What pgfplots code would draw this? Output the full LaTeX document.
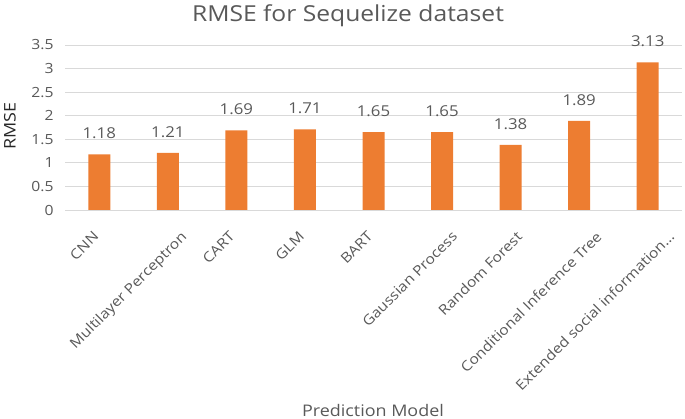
\documentclass[border=0pt]{standalone}
\usepackage{pgfplots}
\pgfplotsset{compat=1.18}
\usepackage{fontspec}
\setmainfont{Open Sans}[FakeStretch=1.12]
\definecolor{barorange}{HTML}{ED7D31}
\definecolor{txtgray}{HTML}{595959}
\definecolor{gridgray}{HTML}{D9D9D9}
\begin{document}
\begin{tikzpicture}
\path[use as bounding box] (0,0) rectangle (685bp,419bp);
\begin{axis}[
  at={(65bp,209bp)}, anchor=south west,
  scale only axis, width=617bp, height=165bp,
  xmin=-0.5, xmax=8.5, ymin=0, ymax=3.5,
  ytick={0,0.5,...,3.5},
  yticklabels={0,0.5,1,1.5,2,2.5,3,3.5},
  xtick=data,
  xticklabels={CNN,Multilayer Perceptron,CART,GLM,BART,Gaussian Process,Random Forest,Conditional Inference Tree,Extended social information…},
  xticklabel style={xshift={{-7,12,-8,-7,-7,9,5,16,20}[\ticknum]}, yshift=-20bp,
    rotate=45, anchor=north east, font=\fontsize{14bp}{17bp}\selectfont, text=txtgray, inner sep=0bp},
  yticklabel style={font=\fontsize{14bp}{17bp}\selectfont, text=txtgray, xshift=-8bp},
  axis line style={draw=none},
  major tick length=0pt,
  ymajorgrids, grid style={gridgray, line width=1bp},
  ybar, bar width=22bp,
  nodes near coords,
  every node near coord/.append style={font=\fontsize{15bp}{18bp}\selectfont, text=txtgray, yshift=12bp},
  /pgf/number format/assume math mode=true,
  /pgf/number format/.cd, fixed, precision=2, fixed zerofill=false,
]
\addplot[fill=barorange, draw=none] coordinates {(0,1.18) (1,1.21) (2,1.69) (3,1.71) (4,1.65) (5,1.65) (6,1.38) (7,1.89) (8,3.13)};
\end{axis}
\node[text=txtgray, font=\fontsize{22bp}{26bp}\selectfont] at (348bp,403bp) {RMSE for Sequelize dataset};
\node[text=black!85, rotate=90, font=\fontsize{16bp}{19bp}\selectfont] at (10bp,293bp) {RMSE};
\node[text=txtgray, font=\fontsize{16bp}{19bp}\selectfont] at (373bp,9bp) {Prediction Model};
\end{tikzpicture}
\end{document}
